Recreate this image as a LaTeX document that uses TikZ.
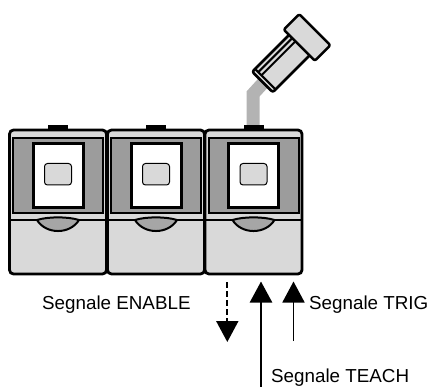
\documentclass[tikz,border=0pt]{standalone}
\usepackage{fontspec}
\setmainfont{Liberation Sans}
\usetikzlibrary{arrows.meta}
\definecolor{lightgr}{HTML}{D9D9D9}
\definecolor{darkgr}{HTML}{9C9C9C}
\definecolor{cablegr}{HTML}{B3B3B3}
\begin{document}
\begin{tikzpicture}[x=1pt,y=-1pt,
  housing/.style={draw=black,fill=lightgr,line width=2.8pt,rounded corners=4pt},
  window/.style={draw=black,fill=darkgr,line width=2pt},
  display/.style={draw=black,fill=white,line width=3pt},
  keypad/.style={draw=black,fill=lightgr,line width=1pt,rounded corners=3pt},
  lens/.style={draw=black,fill=darkgr!90!white,line width=2pt},
  tab/.style={fill=black},
  sensor/.style={draw=black,fill=lightgr,line width=2.5pt,rounded corners=2pt,line join=round},
  groove/.style={draw=black,line width=2pt},
  signal/.style={-{Triangle[length=21pt,width=22pt]}},
  label/.style={inner sep=0pt,anchor=base west,font=\fontsize{18.8}{21}\selectfont}]
\useasboundingbox (0,0) rectangle (428,387);

% cable from the third unit to the sensor
\draw[cablegr,line width=13pt,line join=miter] (253,128) -- (253,94) -- (264,82);

% three modules side by side
\foreach \L in {9.5,107.5,205}{
  \pgfmathsetmacro{\c}{\L+48.5}
  \fill[tab] ({\c-10},125.5) rectangle ({\c+10},131);
  \draw[housing] (\L,130) rectangle ({\L+97},274);
  \draw[window] ({\L+3.5},138.5) rectangle ({\L+93.5},213);
  \draw[display] ({\c-25},143.5) rectangle ({\c+25},207.5);
  \draw[keypad] ({\c-13.5},163.5) rectangle ({\c+13.5},185);
  \draw[line width=2.5pt] (\L,220) -- ({\L+97},220);
  \draw[lens] ({\c-21},220) .. controls ({\c-10},216.5) and ({\c+10},216.5) .. ({\c+21},220)
     .. controls ({\c+12},234.7) and ({\c-12},234.7) .. cycle;
}

% sensor head, tilted toward the upper right
\begin{scope}[shift={(262.5,82)},rotate=45]
  \draw[sensor] (0,-14.5) rectangle (54,14.5);
  \draw[groove] (4,-14.5) -- (4,14.5);
  \draw[groove] (4,-10) -- (54,-10);
  \draw[groove] (4,-5.5) -- (54,-5.5);
  \draw[sensor] (52,-22) rectangle (74,22);
\end{scope}

% signal lines
\coordinate (enTop) at (227.3,282);
\coordinate (enEnd) at (227.3,342);
\coordinate (teBot) at (261,387);
\coordinate (teTop) at (261,281.5);
\coordinate (trBot) at (293.5,341);
\coordinate (trTop) at (293.5,281.5);
\draw[signal,line width=2pt,dash pattern=on 6pt off 3pt] (enTop) -- (enEnd);
\draw[signal,line width=2.5pt] (teBot) -- (teTop);
\draw[signal,line width=1.8pt] (trBot) -- (trTop);

\node[label] (enable) at (42,309.5) {Segnale ENABLE};
\node[label] (trig) at (309,309.5) {Segnale TRIG};
\node[label] (teach) at (271,382.5) {Segnale TEACH};
\end{tikzpicture}
\end{document}
